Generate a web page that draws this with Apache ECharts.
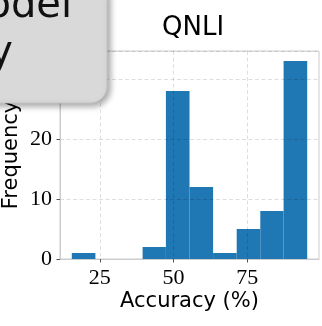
<!DOCTYPE html>
<html><head><meta charset="utf-8">
<script src="https://cdn.jsdelivr.net/npm/echarts@6/dist/echarts.min.js"></script>
<style>html,body{margin:0;padding:0;background:#fff}#c{width:322px;height:326px}</style>
</head><body><div id="c"></div>
<script>
const title = 'QNLI';
const xName = 'Accuracy (%)';
const yName = 'Frequency';
const binEdges = [15.5, 23.5, 31.5, 39.5, 47.4, 55.4, 63.4, 71.4, 79.4, 87.3, 95.3];
const counts = [1, 0, 0, 2, 28, 12, 1, 5, 8, 33];
const xTicks = [25, 50, 75];
const yTicks = [0, 10, 20, 30];
const boxLines = ['Model', 'Accuracy'];

const data = counts.map((c, i) => [binEdges[i], binEdges[i + 1], c]);
const gridColor = 'rgba(0,0,0,0.13)';
const spine = '#cccccc';
const serif = 'Liberation Serif';
const chart = echarts.init(document.getElementById('c'), null, {renderer: 'canvas'});
chart.setOption({
  animation: false,
  title: {text: title, left: 157, top: 10,
    textStyle: {fontFamily: 'DejaVu Sans', fontWeight: 'normal', fontSize: 26, color: '#000'}},
  grid: {left: 60, right: 3, top: 51, bottom: 67, show: true, borderColor: spine, borderWidth: 1,
    containLabel: false, outerBoundsMode: 'none'},
  xAxis: {type: 'value', min: 11.5, max: 99.3, z: 5,
    name: xName, nameLocation: 'middle', nameGap: 32, nameMoveOverlap: false,
    nameTextStyle: {fontFamily: 'DejaVu Sans', fontSize: 21, color: '#000'},
    axisLine: {show: true, lineStyle: {color: spine}},
    axisTick: {show: true, length: 3.5, customValues: xTicks, lineStyle: {color: '#555'}},
    axisLabel: {show: false},
    splitLine: {show: true, lineStyle: {color: gridColor, type: [4, 2.5], width: 1}}},
  yAxis: {type: 'value', min: 0, max: 34.65, interval: 10, z: 5,
    name: yName, nameLocation: 'middle', nameGap: 38, nameMoveOverlap: false,
    nameTextStyle: {fontFamily: 'DejaVu Sans', fontSize: 21, color: '#000'},
    axisLine: {show: true, lineStyle: {color: spine}},
    axisTick: {show: true, length: 3.5, lineStyle: {color: '#555'}},
    axisLabel: {margin: 8, showMaxLabel: false, color: '#000', fontSize: 22, fontFamily: serif},
    splitLine: {show: true, lineStyle: {color: gridColor, type: [4, 2.5], width: 1}}},
  series: [{type: 'custom', z: 2, data: data,
    renderItem: function (params, api) {
      const p0 = api.coord([api.value(0), api.value(2)]);
      const p1 = api.coord([api.value(1), 0]);
      return {type: 'rect', shape: {x: p0[0], y: p0[1], width: p1[0] - p0[0], height: p1[1] - p0[1]},
        style: {fill: '#1f77b4'}};
    }}]
});
// x tick labels placed through the axis scale
const xLabelEls = xTicks.map(function (v, i) {
  const p = chart.convertToPixel({gridIndex: 0}, [v, 0]);
  return {type: 'text', id: 'xl' + i, z: 50, style: {text: String(v), x: p[0], y: p[1] + 8,
    align: 'center', verticalAlign: 'top', font: 'normal 22px "Liberation Serif", "DejaVu Serif", serif', fill: '#000'}};
});
chart.setOption({
  graphic: xLabelEls.concat([
    {type: 'rect', id: 'box', z: 100, shape: {x: -20, y: -20, width: 127, height: 123, r: 17},
      style: {fill: '#d9d9d9', stroke: '#c4c4c4', lineWidth: 1,
        shadowBlur: 6, shadowOffsetX: 3, shadowOffsetY: 3, shadowColor: 'rgba(0,0,0,0.35)'}},
    {type: 'text', id: 'b1', z: 101, style: {text: boxLines[0], x: 72, y: 27, align: 'right', verticalAlign: 'bottom',
      fontFamily: 'DejaVu Sans', fontSize: 40, fill: '#111'}},
    {type: 'text', id: 'b2', z: 101, style: {text: boxLines[1], x: 13, y: 74, align: 'right', verticalAlign: 'bottom',
      fontFamily: 'DejaVu Sans', fontSize: 40, fill: '#111'}}
  ])
});
</script></body></html>
